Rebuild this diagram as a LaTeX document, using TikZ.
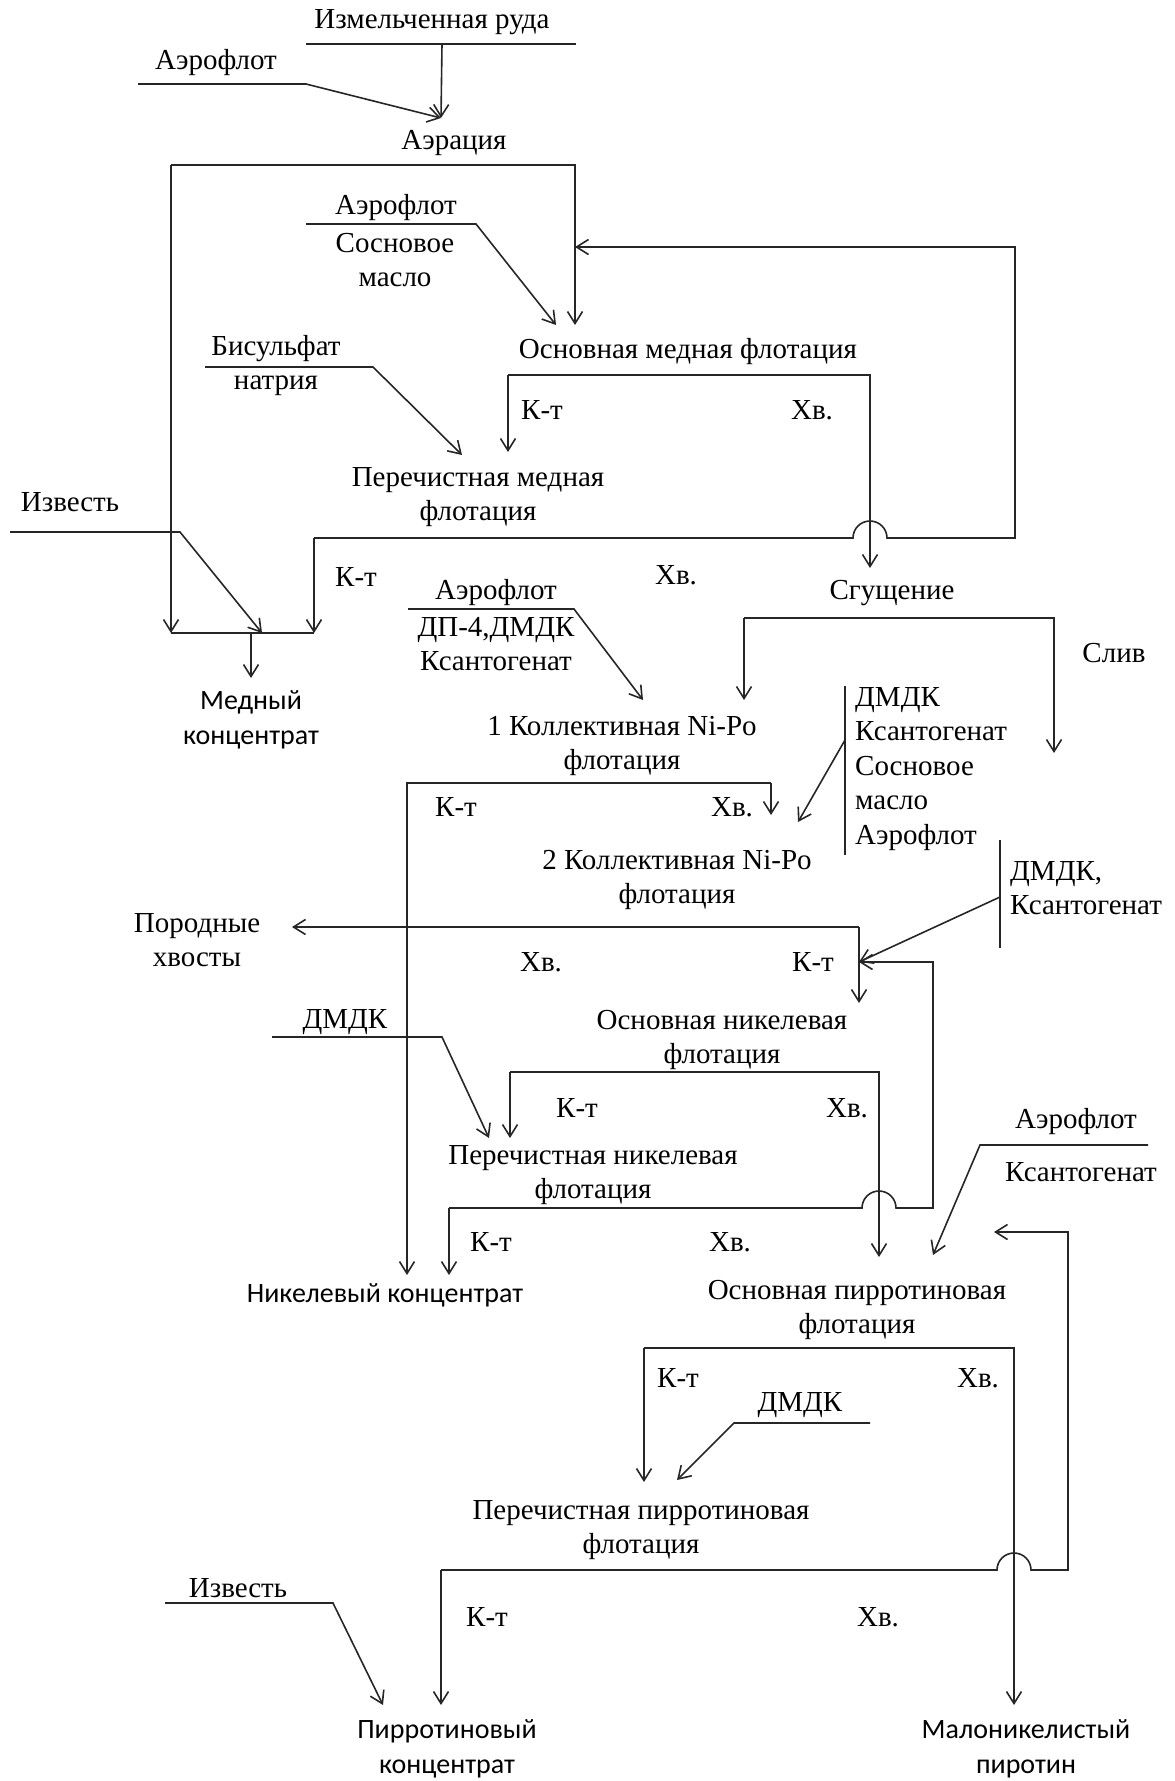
\documentclass[tikz,border=0pt]{standalone}
\usepackage{fontspec}
\setmainfont{Liberation Serif}
\newfontfamily\prodfont{Carlito}
\usetikzlibrary{arrows.meta}

\tikzset{
  lbl/.style={inner sep=0pt, align=center, font=\fontsize{29}{34}\selectfont},
  reag/.style={inner sep=0pt, align=left, anchor=west, font=\fontsize{29}{34.5}\selectfont},
  prod/.style={inner sep=0pt, align=center, font=\prodfont\fontsize{28}{35}\selectfont},
  flow/.style={line width=1.6pt, draw=black!85},
}

\begin{document}
\begin{tikzpicture}[x=1pt,y=-1pt,>={Straight Barb[length=12pt,width=15pt]}]
  \useasboundingbox (0,0) rectangle (1175,1781);

  \node[lbl]  (ore)   at (432,22)   {Измельченная руда};
  \node[lbl]  (af1)   at (216,63)   {Аэрофлот};
  \node[lbl]  (aer)   at (454,143)  {Аэрация};
  \node[lbl]  (af2)   at (396,208)  {Аэрофлот};
  \node[lbl]  (pine1) at (395,260)  {Сосновое\\масло};
  \node[lbl]  (omf)   at (688,352)  {Основная медная флотация};
  \node[lbl]  (bis)   at (276,366)  {Бисульфат\\натрия};
  \node[lbl]  (kt1)   at (542,410)  {К-т};
  \node[lbl]  (xv1)   at (812,410)  {Хв.};
  \node[lbl]  (pmf)   at (478,497)  {Перечистная медная\\флотация};
  \node[lbl]  (izv1)  at (70,502)   {Известь};
  \node[lbl]  (kt2)   at (356,577)  {К-т};
  \node[lbl]  (xv2)   at (676,575)  {Хв.};
  \node[lbl]  (sg)    at (892,593)  {Сгущение};
  \node[lbl]  (af3)   at (496,593)  {Аэрофлот};
  \node[lbl]  (dp)    at (496,644)  {ДП-4,ДМДК\\Ксантогенат};
  \node[prod] (cu)    at (251,720)  {Медный\\концентрат};
  \node[lbl]  (sliv)  at (1114,653) {Слив};
  \node[lbl]  (col1)  at (622,746)  {1 Коллективная Ni-Po\\флотация};
  \node[reag] (rg1)   at (855,769)  {ДМДК\\Ксантогенат\\Сосновое\\масло\\Аэрофлот};
  \node[lbl]  (kt3)   at (456,807)  {К-т};
  \node[lbl]  (xv3)   at (732,807)  {Хв.};
  \node[lbl]  (col2)  at (677,880)  {2 Коллективная Ni-Po\\флотация};
  \node[reag] (rg2)   at (1010,888) {ДМДК,\\Ксантогенат};
  \node[lbl]  (por)   at (197,940)  {Породные\\хвосты};
  \node[lbl]  (xv4)   at (541,962)  {Хв.};
  \node[lbl]  (kt4)   at (813,962)  {К-т};
  \node[lbl]  (onf)   at (722,1040) {Основная никелевая\\флотация};
  \node[lbl]  (dm1)   at (345,1022) {ДМДК};
  \node[lbl]  (kt5)   at (577,1108) {К-т};
  \node[lbl]  (xv5)   at (847,1108) {Хв.};
  \node[lbl]  (af4)   at (1076,1122) {Аэрофлот};
  \node[lbl]  (ks4)   at (1081,1172) {Ксантогенат};
  \node[lbl]  (pnf)   at (593,1175) {Перечистная никелевая\\флотация};
  \node[lbl]  (kt6)   at (491,1242) {К-т};
  \node[lbl]  (xv6)   at (730,1242) {Хв.};
  \node[prod] (ni)    at (385,1295) {Никелевый концентрат};
  \node[lbl]  (opf)   at (857,1310) {Основная пирротиновая\\флотация};
  \node[lbl]  (kt7)   at (678,1378) {К-т};
  \node[lbl]  (xv7)   at (978,1378) {Хв.};
  \node[lbl]  (dm2)   at (800,1405) {ДМДК};
  \node[lbl]  (ppf)   at (641,1530) {Перечистная пирротиновая\\флотация};
  \node[lbl]  (izv2)  at (238,1588) {Известь};
  \node[lbl]  (kt8)   at (487,1617) {К-т};
  \node[lbl]  (xv8)   at (878,1617) {Хв.};
  \node[prod] (pc)    at (447,1749) {Пирротиновый\\концентрат};
  \node[prod] (mn)    at (1026,1749) {Малоникелистый\\пиротин};

  \coordinate (oreL) at (306,44);   \coordinate (oreR) at (576,44);
  \coordinate (oreM) at (442,44);   \coordinate (aerIn) at (441,118);
  \coordinate (af1L) at (138,84);   \coordinate (af1K) at (306,84);
  \coordinate (aerL) at (171,165);  \coordinate (aerR) at (575,165);
  \coordinate (omfIn1) at (575,325); \coordinate (omfIn2) at (556,325);
  \coordinate (omfIn3) at (575,247);
  \coordinate (af2L) at (306,224);  \coordinate (af2K) at (476,224);
  \coordinate (omfL) at (508,375);  \coordinate (omfR) at (870,375);
  \coordinate (pmfIn1) at (508,452); \coordinate (pmfIn2) at (462,455);
  \coordinate (sgIn) at (870,568);
  \coordinate (bisL) at (205,367);  \coordinate (bisK) at (373,367);
  \coordinate (pmfL) at (314,538);  \coordinate (jmp1) at (853,538);
  \coordinate (rc1A) at (1015,538); \coordinate (rc1B) at (1015,247);
  \coordinate (izv1L) at (10,532);  \coordinate (izv1K) at (180,532);
  \coordinate (cuBL) at (171,633);  \coordinate (cuBR) at (314,633);
  \coordinate (cuIn2) at (262,633); \coordinate (cuJ) at (251,633);
  \coordinate (cuIn) at (251,678);
  \coordinate (sgL) at (744,618);   \coordinate (sgR) at (1054,618);
  \coordinate (col1In1) at (744,700); \coordinate (col1In2) at (643,700);
  \coordinate (slivEnd) at (1054,753);
  \coordinate (af3L) at (408,609);  \coordinate (af3K) at (574,609);
  \coordinate (col1L) at (407,783); \coordinate (col1R) at (771,783);
  \coordinate (col2In1) at (771,815); \coordinate (col2In2) at (798,822);
  \coordinate (niIn1) at (407,1275);
  \coordinate (br1T) at (845,686);  \coordinate (br1B) at (845,855);
  \coordinate (br1M) at (845,740);
  \coordinate (col2R) at (859,927); \coordinate (porIn) at (292,927);
  \coordinate (onfIn1) at (859,1003); \coordinate (onfIn2) at (859,962);
  \coordinate (br2T) at (1000,840); \coordinate (br2B) at (1000,948);
  \coordinate (br2M) at (1000,897);
  \coordinate (onfL) at (510,1072); \coordinate (onfR) at (879,1072);
  \coordinate (pnfIn1) at (510,1138); \coordinate (pnfIn2) at (489,1138);
  \coordinate (dm1L) at (272,1037); \coordinate (dm1K) at (442,1037);
  \coordinate (pnfL) at (449,1208); \coordinate (jmp2) at (862,1208);
  \coordinate (rc2A) at (933,1208); \coordinate (rc2B) at (933,962);
  \coordinate (niIn2) at (449,1275);
  \coordinate (opfIn1) at (879,1257); \coordinate (opfIn2) at (933,1255);
  \coordinate (opfIn3) at (994,1232);
  \coordinate (af4R) at (1148,1145); \coordinate (af4K) at (980,1145);
  \coordinate (opfL) at (644,1348); \coordinate (opfR) at (1014,1348);
  \coordinate (ppfIn1) at (644,1482); \coordinate (ppfIn2) at (677,1480);
  \coordinate (mnIn) at (1014,1705);
  \coordinate (dm2R) at (870,1423); \coordinate (dm2K) at (734,1423);
  \coordinate (ppfL) at (441,1570); \coordinate (jmp3) at (997,1570);
  \coordinate (rc3A) at (1068,1570); \coordinate (rc3B) at (1068,1232);
  \coordinate (pcIn1) at (441,1705); \coordinate (pcIn2) at (383,1705);
  \coordinate (iz2L) at (165,1603); \coordinate (iz2K) at (333,1603);

  \draw[flow] (oreL) -- (oreR);
  \draw[flow,->] (oreM) -- (aerIn);
  \draw[flow,->] (af1L) -- (af1K) -- (aerIn);
  \draw[flow,->] (aerL) -- (aerR) -- (omfIn1);
  \draw[flow,->] (aerL) -- (cuBL);
  \draw[flow,->] (af2L) -- (af2K) -- (omfIn2);
  \draw[flow,->] (omfL) -- (pmfIn1);
  \draw[flow,->] (omfL) -- (omfR) -- (sgIn);
  \draw[flow,->] (bisL) -- (bisK) -- (pmfIn2);
  \draw[flow,->] (pmfL) -- (cuBR);
  \draw[flow,->] (pmfL) -- (jmp1) arc[start angle=180,end angle=0,radius=17pt] -- (rc1A) -- (rc1B) -- (omfIn3);
  \draw[flow,->] (izv1L) -- (izv1K) -- (cuIn2);
  \draw[flow] (cuBL) -- (cuBR);
  \draw[flow,->] (cuJ) -- (cuIn);
  \draw[flow,->] (sgL) -- (col1In1);
  \draw[flow,->] (sgL) -- (sgR) -- (slivEnd);
  \draw[flow,->] (af3L) -- (af3K) -- (col1In2);
  \draw[flow,->] (col1R) -- (col2In1);
  \draw[flow,->] (col1R) -- (col1L) -- (niIn1);
  \draw[flow] (br1T) -- (br1B);
  \draw[flow,->] (br1M) -- (col2In2);
  \draw[flow,->] (col2R) -- (porIn);
  \draw[flow,->] (col2R) -- (onfIn1);
  \draw[flow] (br2T) -- (br2B);
  \draw[flow,->] (br2M) -- (onfIn2);
  \draw[flow,->] (onfL) -- (pnfIn1);
  \draw[flow,->] (onfL) -- (onfR) -- (opfIn1);
  \draw[flow,->] (dm1L) -- (dm1K) -- (pnfIn2);
  \draw[flow,->] (pnfL) -- (niIn2);
  \draw[flow,->] (pnfL) -- (jmp2) arc[start angle=180,end angle=0,radius=17pt] -- (rc2A) -- (rc2B) -- (onfIn2);
  \draw[flow,->] (af4R) -- (af4K) -- (opfIn2);
  \draw[flow,->] (opfL) -- (ppfIn1);
  \draw[flow,->] (opfL) -- (opfR) -- (mnIn);
  \draw[flow,->] (dm2R) -- (dm2K) -- (ppfIn2);
  \draw[flow,->] (ppfL) -- (pcIn1);
  \draw[flow,->] (ppfL) -- (jmp3) arc[start angle=180,end angle=0,radius=17pt] -- (rc3A) -- (rc3B) -- (opfIn3);
  \draw[flow,->] (iz2L) -- (iz2K) -- (pcIn2);
\end{tikzpicture}
\end{document}
